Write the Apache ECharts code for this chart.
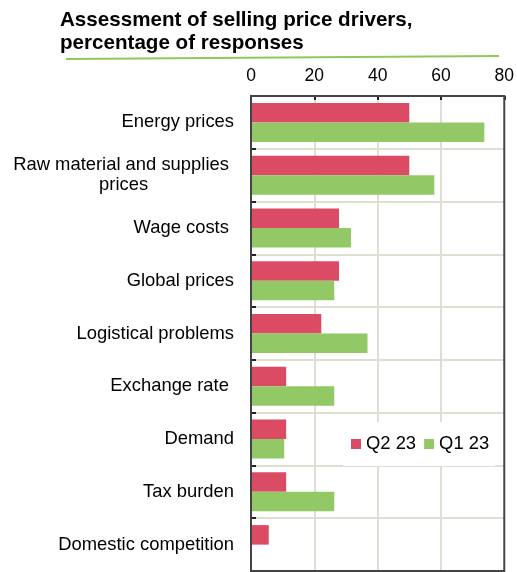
<!DOCTYPE html>
<html><head><meta charset="utf-8">
<script src="https://cdn.jsdelivr.net/npm/echarts@6/dist/echarts.min.js"></script>
<style>html,body{margin:0;padding:0;background:#fff}#c{width:517px;height:572px}</style>
</head><body><div id="c"></div>
<script>
var categories = ["Energy prices", "Raw material and supplies \nprices", "Wage costs ", "Global prices", "Logistical problems", "Exchange rate ", "Demand", "Tax burden", "Domestic competition"];
var q2Values = [50.0, 50.0, 27.8, 27.8, 22.2, 11.1, 11.1, 11.1, 5.6];
var q1Values = [73.7, 57.9, 31.6, 26.3, 36.8, 26.3, 10.5, 26.3, 0];
var seriesNames = ["Q2 23", "Q1 23"];
var titleText = "Assessment of selling price drivers,\npercentage of responses";

var chart = echarts.init(document.getElementById('c'), null, {renderer: 'canvas'});
var FONT = '"Liberation Sans", Arial, sans-serif';
chart.setOption({
  animation: false,
  title: {
    text: titleText, left: 55, top: 4,
    textStyle: {fontFamily: FONT, fontSize: 20.6, fontWeight: 'bold', color: '#000', lineHeight: 23}
  },
  graphic: [{
    type: 'line', shape: {x1: 66, y1: 59, x2: 499, y2: 56},
    style: {stroke: '#8cc85a', lineWidth: 2}
  }],
  legend: {
    data: seriesNames, left: 343, top: 422, orient: 'horizontal',
    icon: 'rect', itemWidth: 10, itemHeight: 10, itemGap: 8,
    itemStyle: {borderWidth: 0},
    padding: [13, 6, 13, 8], backgroundColor: '#fff',
    textStyle: {fontFamily: FONT, fontSize: 18.4, color: '#000'}
  },
  grid: {left: 251, right: 11, top: 96, bottom: 1, show: true, borderColor: '#444', borderWidth: 2, containLabel: false, z: 3},
  xAxis: {
    type: 'value', position: 'top', min: 0, max: 80, interval: 20,
    axisLine: {show: true, lineStyle: {color: '#222', width: 2}},
    axisTick: {show: true, inside: true, length: 4, lineStyle: {color: '#222', width: 2}},
    axisLabel: {fontFamily: FONT, fontSize: 17.5, color: '#000', margin: 11},
    splitLine: {show: true, showMinLine: false, showMaxLine: false, lineStyle: {color: '#deded3', width: 2}}
  },
  yAxis: {
    type: 'category', data: categories, inverse: true,
    axisLine: {show: true, lineStyle: {color: '#222', width: 2}},
    axisTick: {show: true, inside: true, length: 5, lineStyle: {color: '#222', width: 2}},
    axisLabel: {
      fontFamily: FONT, fontSize: 18.4, color: '#000', margin: 17, lineHeight: 20,
      formatter: function (v) {
        return v.indexOf('\n') >= 0 ? v.split('\n').map(function (s) { return '{c|' + s + '}'; }).join('\n') : v;
      },
      rich: {c: {align: 'center', fontFamily: FONT, fontSize: 18.4, color: '#000', lineHeight: 20}}
    },
    splitLine: {show: true, showMinLine: false, showMaxLine: false, lineStyle: {color: '#deded3', width: 2}}
  },
  series: [
    {name: seriesNames[0], type: 'bar', data: q2Values, barWidth: 19.5, barGap: '0%',
     itemStyle: {color: '#dc4b64'}},
    {name: seriesNames[1], type: 'bar', data: q1Values, barWidth: 19.5, barGap: '0%',
     itemStyle: {color: '#92c966'}}
  ]
});
</script></body></html>
